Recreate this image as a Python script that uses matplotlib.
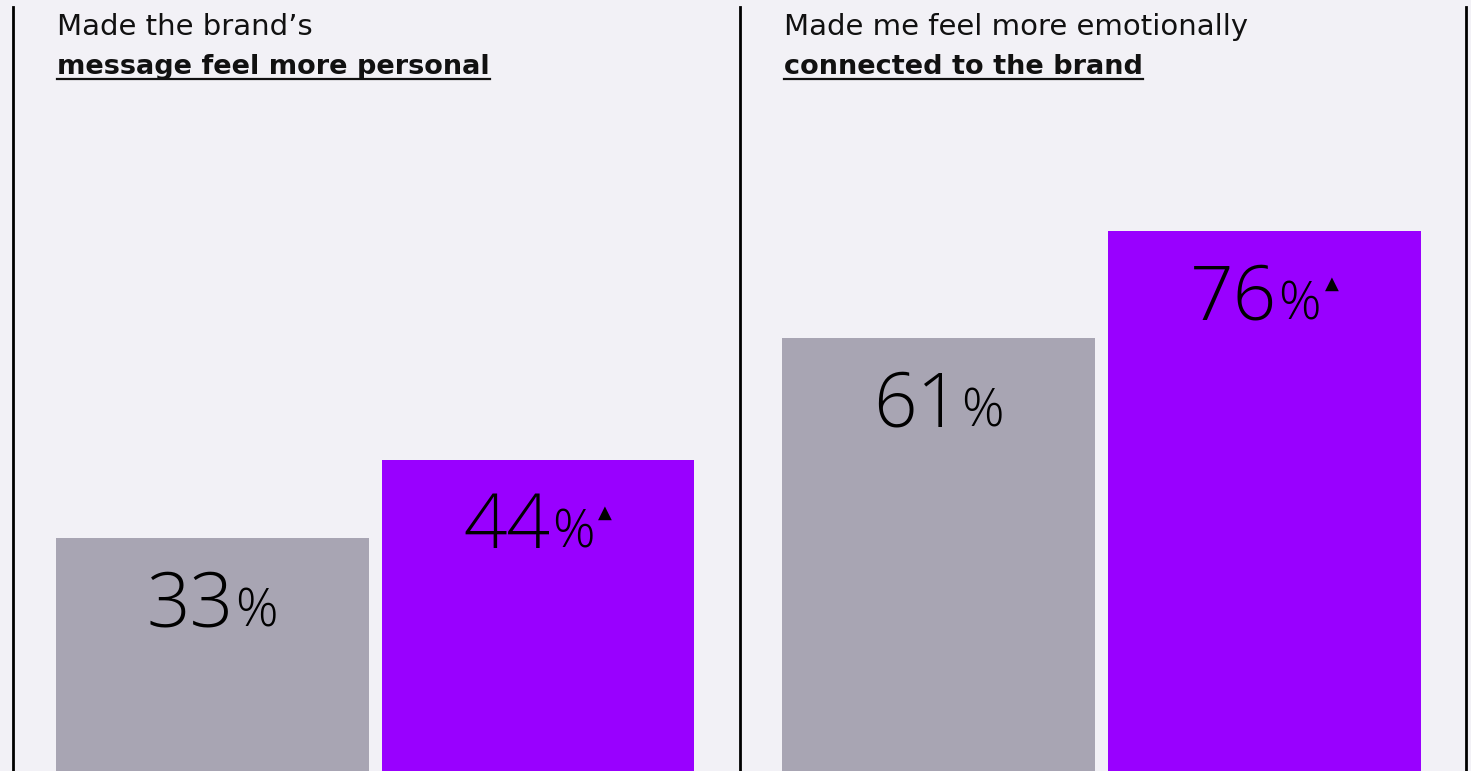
import matplotlib
matplotlib.use("Agg")
import matplotlib.pyplot as plt
from matplotlib.lines import Line2D
from matplotlib.transforms import ScaledTranslation

# survey results, share of respondents agreeing
titles_top = ["Made the brand\u2019s", "Made me feel more emotionally"]
titles_bold = ["message feel more personal", "connected to the brand"]
groups = ["Control", "Exposed"]
values = [[33, 44], [61, 76]]
significant = [[False, True], [False, True]]

BG = "#F2F1F6"
GRAY = "#A8A5B3"
PURPLE = "#9900FF"
TITLE_FONT = ["DejaVu Sans"]
NUM_FONT = ["Open Sans", "DejaVu Sans"]

W, H, DPI = 1471, 771, 100
fig = plt.figure(figsize=(W / DPI, H / DPI), dpi=DPI, facecolor=BG)
renderer = fig.canvas.get_renderer()

panel_px = [(13, 740), (740, 1466)]
xlims = [(-0.612, 1.621), (-0.609, 1.618)]


def px(dx, dy=0):
    return ScaledTranslation(dx / DPI, dy / DPI, fig.dpi_scale_trans)


def value_label(ax, x, y, num, sig):
    parts = [(str(num), 55, NUM_FONT, 300, 0, 0),
             ("%", 38, NUM_FONT, 300, 1, 0)]
    if sig:
        parts.append(("\u25b2", 13, ["DejaVu Sans"], "normal", 4, 30))
    texts, widths = [], []
    for s, size, fam, weight, gap, rise in parts:
        t = ax.text(x, y, s, fontsize=size, family=fam, fontweight=weight,
                    ha="left", va="baseline", color="black")
        texts.append(t)
        widths.append(t.get_window_extent(renderer).width)
    total = sum(widths) + sum(p[4] for p in parts)
    cur = -total / 2
    for t, w, p in zip(texts, widths, parts):
        cur += p[4]
        t.set_transform(ax.transData + px(cur, p[5]))
        cur += w


for i in range(2):
    x0, x1 = panel_px[i]
    ax = fig.add_axes([x0 / W, 0, (x1 - x0) / W, 1])
    ax.set_facecolor("none")
    ax.set_xlim(*xlims[i])
    ax.set_ylim(0.42, 108.4)
    ax.axis("off")
    ax.bar([0, 1], values[i], width=0.96, color=[GRAY, PURPLE])
    for j, v in enumerate(values[i]):
        value_label(ax, j, v - 12.3, v, significant[i][j])

    # two-line heading, second line bold and underlined
    tx = (x0 + 44) / W
    fig.text(tx, 1 - 35 / H, titles_top[i], fontsize=21, family=TITLE_FONT,
             color="#111111", ha="left", va="baseline")
    tb = fig.text(tx, 1 - 74 / H, titles_bold[i], fontsize=19.5,
                  family=TITLE_FONT, fontweight="bold", color="#111111",
                  ha="left", va="baseline")
    bb = tb.get_window_extent(renderer)
    uy = 1 - 79 / H
    fig.add_artist(Line2D([bb.x0 / W, bb.x1 / W], [uy, uy], color="#111111",
                          lw=1.6, transform=fig.transFigure))

# panel dividers
for xp in [13, 740, 1466]:
    fig.add_artist(Line2D([xp / W, xp / W], [0, 1 - 7 / H], color="black",
                          lw=2, transform=fig.transFigure))

fig.savefig("out.png", dpi=DPI, facecolor=BG)
